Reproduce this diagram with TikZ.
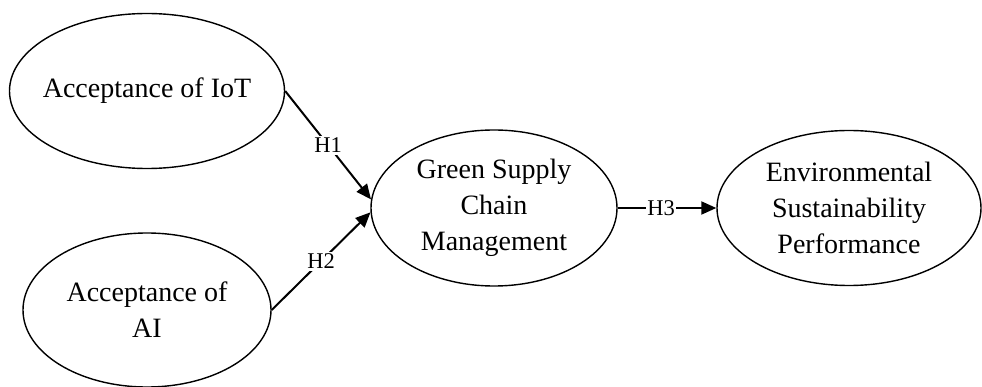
\documentclass[tikz,border=0pt]{standalone}
\usepackage{fontspec}
\setmainfont{Liberation Serif}
\usetikzlibrary{shapes.geometric,arrows.meta}
\begin{document}
\begin{tikzpicture}[x=1pt,y=-1pt,
  construct/.style={ellipse,draw,line width=1.4pt,inner sep=0pt},
  txt/.style={align=center,inner sep=0pt,font=\fontsize{28}{36}\selectfont},
  link/.style={line width=2pt,-{Triangle[length=15pt,width=13pt]}},
  hyp/.style={fill=white,inner sep=2pt,font=\fontsize{22.5}{24}\selectfont}]
\useasboundingbox (0,0) rectangle (982,387);
\node[construct,minimum width=275pt,minimum height=155pt] (iot) at (147,91) {};
\node[txt] (iott) at (iot.center) {Acceptance of IoT};
\node[construct,minimum width=248pt,minimum height=154pt] (ai) at (147,310) {};
\node[txt] (ait) at (ai.center) {Acceptance of\\AI};
\node[construct,minimum width=246pt,minimum height=156pt] (gscm) at (494,208) {};
\node[txt] (gscmt) at (gscm.center) {Green Supply\\Chain\\Management};
\node[construct,minimum width=264pt,minimum height=155pt] (esp) at (849,208) {};
\node[txt] (espt) at (esp.center) {Environmental\\Sustainability\\Performance};
\draw[link] (iot.east) -- node[hyp]{H1} (gscm.176);
\draw[link] (ai.east) -- node[hyp]{H2} (gscm.182);
\draw[link] (gscm.east) -- node[hyp,inner sep=1pt,xshift=-6pt]{H3} (esp.west);
\end{tikzpicture}
\end{document}
